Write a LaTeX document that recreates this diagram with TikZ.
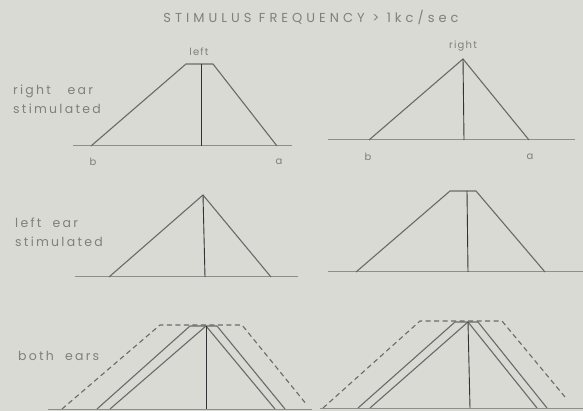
\documentclass[tikz,border=0pt]{standalone}
\usepackage{fontspec}
\setmainfont{Poppins}[LetterSpace=12]
\newfontfamily\titlefont{Poppins}[LetterSpace=31]
\newfontfamily\labelfont{Poppins}[LetterSpace=18]
\usetikzlibrary{positioning}

\definecolor{paper}{HTML}{DADAD4}
\definecolor{inkline}{HTML}{6A6A68}
\definecolor{inkaxis}{HTML}{8E8E8A}
\definecolor{inktext}{HTML}{80807C}

\begin{document}
\begin{tikzpicture}[
    x=1pt, y=-1pt,
    slope/.style={draw=inkline, line width=1.1pt, line join=round},
    baseln/.style={draw=inkaxis, line width=1pt},
    midln/.style={draw=black!80, line width=0.9pt},
    dashln/.style={slope, dash pattern=on 5pt off 3.5pt},
    lbl/.style={font=\labelfont\fontsize{12.5}{19}\selectfont, text=inktext, align=left, inner sep=0pt},
    tag/.style={font=\fontsize{10}{12}\selectfont, text=inktext, inner sep=0pt}
]
\fill[paper] (0,0) rectangle (583,411);
\useasboundingbox (0,0) rectangle (583,411);

% texts
\node[tag, font=\titlefont\fontsize{13}{15}\selectfont] (title) at (311,17) {STIMULUS FREQUENCY > 1kc/sec};
\node[tag] (lefttag) at (199,52) {left};
\node[tag] (righttag) at (463,46) {right};
\node[lbl, anchor=west] (rstim) at (13,99) {right\ \ \ ear\\stimulated};
\node[lbl, anchor=west] (lstim) at (15,232.5) {left\ \ ear\\stimulated};
\node[lbl, anchor=west] (both) at (18,356) {both\ \ ears};

% right ear stimulated, left
\coordinate (ra0) at (73,146);  \coordinate (ra1) at (292,146);
\coordinate (rafl) at (91,146); \coordinate (rafr) at (277,146);
\coordinate (ratl) at (186,64); \coordinate (ratr) at (213,64);
\coordinate (ravt) at (201,64); \coordinate (ravb) at (201,146);
\draw[baseln] (ra0) -- (ra1);
\draw[slope] (rafl) -- (ratl) -- (ratr) -- (rafr);
\draw[midln] (ravt) -- (ravb);
\node[tag] (rab) at (93,162) {b};
\node[tag] (raa) at (279,162) {a};

% right ear stimulated, right
\coordinate (rb0) at (328,140); \coordinate (rb1) at (575,140);
\coordinate (rbfl) at (369,140); \coordinate (rbfr) at (529,140);
\coordinate (rbtop) at (463,59); \coordinate (rbvb) at (464,140);
\draw[baseln] (rb0) -- (rb1);
\draw[slope] (rbfl) -- (rbtop) -- (rbfr);
\draw[midln] (rbtop) -- (rbvb);
\node[tag] (rbb) at (368,157) {b};
\node[tag] (rba) at (530,157) {a};

% left ear stimulated, left
\coordinate (la0) at (75,277);  \coordinate (la1) at (298,277);
\coordinate (lafl) at (109,277); \coordinate (lafr) at (271,277);
\coordinate (latop) at (203,195); \coordinate (lavb) at (205,277);
\draw[baseln] (la0) -- (la1);
\draw[slope] (lafl) -- (latop) -- (lafr);
\draw[midln] (latop) -- (lavb);

% left ear stimulated, right
\coordinate (lb0) at (328,272); \coordinate (lb1) at (583,272);
\coordinate (lbfl) at (356,272); \coordinate (lbfr) at (545,272);
\coordinate (lbtl) at (450,191); \coordinate (lbtr) at (476,191);
\coordinate (lbvt) at (467,191); \coordinate (lbvb) at (468,272);
\draw[baseln] (lb0) -- (lb1);
\draw[slope] (lbfl) -- (lbtl) -- (lbtr) -- (lbfr);
\draw[midln] (lbvt) -- (lbvb);

% both ears, left
\coordinate (ba0) at (48,409);  \coordinate (ba1) at (312,409);
\coordinate (bafl) at (97,409); \coordinate (bafr) at (285,409);
\coordinate (batl) at (190,326); \coordinate (batr) at (217,326);
\coordinate (bapk) at (206,326);
\coordinate (bail) at (110,409); \coordinate (bair) at (275,409);
\coordinate (bavb) at (206,409);
\coordinate (badl) at (62,409);  \coordinate (badtl) at (160,325);
\coordinate (badtr) at (242,325); \coordinate (badr) at (307,405);
\draw[baseln] (ba0) -- (ba1);
\draw[dashln] (badl) -- (badtl) -- (badtr) -- (badr);
\draw[slope] (bafl) -- (batl) -- (batr) -- (bafr);
\draw[slope] (bail) -- (bapk) -- (bair);
\draw[midln] (bapk) -- (bavb);

% both ears, right
\coordinate (bb0) at (320,408); \coordinate (bb1) at (583,408);
\coordinate (bbfl) at (358,408); \coordinate (bbfr) at (547,408);
\coordinate (bbtl) at (455,322); \coordinate (bbtr) at (478,322);
\coordinate (bbpk) at (468,322);
\coordinate (bbil) at (370,408); \coordinate (bbir) at (537,408);
\coordinate (bbvb) at (470,408);
\coordinate (bbdl) at (323,408); \coordinate (bbdtl) at (420,321);
\coordinate (bbdtr) at (502,321); \coordinate (bbdr) at (565,397);
\draw[baseln] (bb0) -- (bb1);
\draw[dashln] (bbdl) -- (bbdtl) -- (bbdtr) -- (bbdr);
\draw[slope] (bbfl) -- (bbtl) -- (bbtr) -- (bbfr);
\draw[slope] (bbil) -- (bbpk) -- (bbir);
\draw[midln] (bbpk) -- (bbvb);
\end{tikzpicture}
\end{document}
